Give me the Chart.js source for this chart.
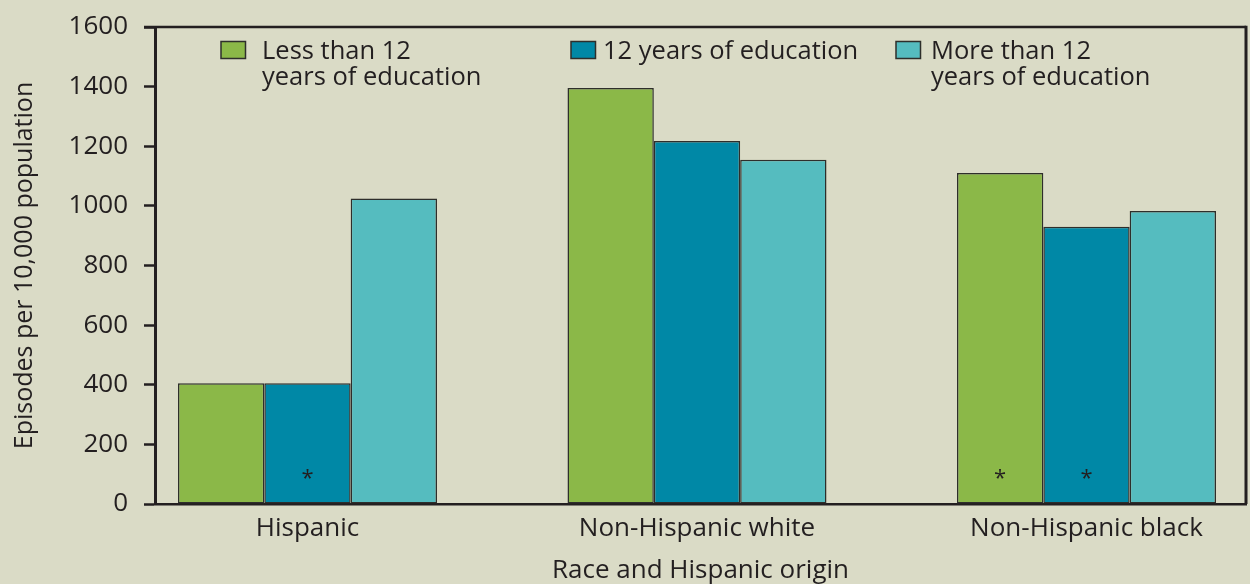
<!DOCTYPE html>
<html>
<head>
<meta charset="utf-8">
<script src="https://cdn.jsdelivr.net/npm/chart.js@4.4.1/dist/chart.umd.min.js"></script>
<style>
  html, body { margin: 0; padding: 0; background: #dadbc6; }
  #wrap { width: 1250px; height: 584px; position: relative; }
  canvas { display: block; }
</style>
</head>
<body>
<div id="wrap"><canvas id="c" width="1250" height="584"></canvas></div>
<script>
// ---- data ----
const categories = ["Hispanic", "Non-Hispanic white", "Non-Hispanic black"];
const seriesLabels = [
  ["Less than 12", "years of education"],
  ["12 years of education"],
  ["More than 12", "years of education"]
];
const lessThan12 = [405, 1395, 1110];
const exactly12 = [405, 1218, 930];
const moreThan12 = [1025, 1155, 983];
// asterisk flags (estimate unreliable)
const lessThan12Flag = [false, false, true];
const exactly12Flag = [true, false, true];
const moreThan12Flag = [false, false, false];
const yTicks = [0, 200, 400, 600, 800, 1000, 1200, 1400, 1600];

const colors = ["#8bb848", "#0088a6", "#55bcbf"];
const ink = "#231f20";
const FONT = "'Open Sans', Lato, sans-serif";

const seriesValues = [lessThan12, exactly12, moreThan12];
const seriesFlags = [lessThan12Flag, exactly12Flag, moreThan12Flag];

const datasets = seriesValues.map((vals, s) => ({
  label: seriesLabels[s].join(" "),
  lines: seriesLabels[s],
  flags: seriesFlags[s],
  data: vals.map((v, i) => ({ x: i, y: v })),
  backgroundColor: colors[s],
  borderColor: "#2e2e2b",
  borderWidth: 1.5,
  borderSkipped: false,
  categoryPercentage: 0.665,
  barPercentage: 1.0
}));

const frame = {
  id: "frame",
  afterDraw(chart) {
    const { ctx, chartArea: a } = chart;
    ctx.save();
    ctx.strokeStyle = ink;
    ctx.lineWidth = 2.5;
    ctx.beginPath();
    ctx.moveTo(a.left - 11, a.top);
    ctx.lineTo(a.right, a.top);
    ctx.stroke();
    ctx.lineWidth = 3;
    ctx.beginPath();
    ctx.moveTo(a.right, a.top - 1.25);
    ctx.lineTo(a.right, a.bottom);
    ctx.stroke();
    ctx.restore();
  }
};

const stars = {
  id: "stars",
  afterDatasetsDraw(chart) {
    const { ctx } = chart;
    const ys = chart.scales.y;
    ctx.save();
    ctx.fillStyle = ink;
    ctx.font = "22px " + FONT;
    ctx.textAlign = "center";
    ctx.textBaseline = "middle";
    chart.data.datasets.forEach((ds, di) => {
      const meta = chart.getDatasetMeta(di);
      ds.flags.forEach((f, i) => {
        if (!f) return;
        const bar = meta.data[i];
        ctx.fillText("*", bar.x, ys.getPixelForValue(85));
      });
    });
    ctx.restore();
  }
};

const legendPos = [
  { box: 221, text: 262 },
  { box: 571, text: 603 },
  { box: 896, text: 931 }
];
const customLegend = {
  id: "customLegend",
  afterDraw(chart) {
    const { ctx } = chart;
    ctx.save();
    ctx.font = "25.5px " + FONT;
    ctx.textAlign = "left";
    ctx.textBaseline = "alphabetic";
    chart.data.datasets.forEach((ds, di) => {
      const p = legendPos[di];
      ctx.fillStyle = ds.backgroundColor;
      ctx.fillRect(p.box, 41.5, 24.5, 17);
      ctx.strokeStyle = "#2e2e2b";
      ctx.lineWidth = 1.5;
      ctx.strokeRect(p.box, 41.5, 24.5, 17);
      ctx.fillStyle = ink;
      ds.lines.forEach((ln, k) => {
        ctx.fillText(ln, p.text, 58.5 + k * 26.5);
      });
    });
    ctx.restore();
  }
};

new Chart(document.getElementById("c"), {
  type: "bar",
  data: { datasets },
  plugins: [frame, stars, customLegend],
  options: {
    responsive: false,
    animation: false,
    layout: { padding: { top: 27, right: 4, bottom: 0, left: 0 } },
    plugins: { legend: { display: false }, tooltip: { enabled: false } },
    scales: {
      x: {
        type: "linear",
        offset: false,
        bounds: "data",
        min: -0.3915,
        max: 2.4095,
        afterBuildTicks(scale) {
          scale.ticks = categories.map((c, i) => ({ value: i }));
        },
        afterFit(scale) { scale.height = 80; scale.paddingLeft = 0; scale.paddingRight = 0; },
        grid: { display: false, drawTicks: false, offset: false },
        border: { display: true, color: ink, width: 2.5 },
        ticks: {
          padding: 8.5,
          color: ink,
          font: { family: FONT, size: 26 },
          maxRotation: 0,
          autoSkip: false,
          callback: (v) => categories[v]
        },
        title: {
          display: true,
          text: "Race and Hispanic origin",
          color: ink,
          font: { family: FONT, size: 26, lineHeight: 1 },
          padding: { top: 0, bottom: 0 }
        }
      },
      y: {
        min: 0,
        max: 1600,
        afterBuildTicks(scale) {
          scale.ticks = yTicks.map(v => ({ value: v }));
        },
        afterFit(scale) { scale.width = 155; scale.paddingTop = 0; scale.paddingBottom = 0; },
        grid: {
          display: true,
          drawOnChartArea: false,
          drawTicks: true,
          tickLength: 11,
          tickWidth: 2.5,
          tickColor: ink
        },
        border: { display: true, color: ink, width: 3 },
        ticks: {
          padding: 16,
          color: ink,
          font: { family: FONT, size: 26 },
          callback: (v) => String(v)
        },
        title: {
          display: true,
          text: "Episodes per 10,000 population",
          color: ink,
          font: { family: FONT, size: 25, lineHeight: 1.2 },
          padding: { top: 10, bottom: 0 }
        }
      }
    }
  }
});
</script>
</body>
</html>
